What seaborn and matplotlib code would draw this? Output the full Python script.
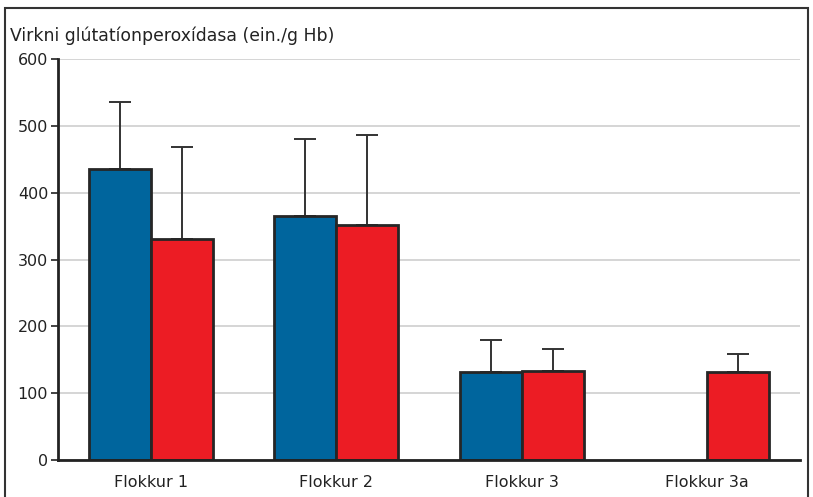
import numpy as np
import pandas as pd
import seaborn as sns
import matplotlib.pyplot as plt
from matplotlib.patches import Rectangle
from matplotlib.container import BarContainer

# ---- data ----
CATEGORIES = ["Flokkur 1", "Flokkur 2", "Flokkur 3", "Flokkur 3a"]
BLUE_VALUES = [435, 365, 132, np.nan]
BLUE_ERR = [101, 115, 48, np.nan]
RED_VALUES = [331, 351, 133, 131]
RED_ERR = [137, 136, 33, 27]
Y_TICKS = [0, 100, 200, 300, 400, 500, 600]
Y_LABEL = "Virkni glútatíonperoxídasa (ein./g Hb)"

BLUE = "#00659d"
RED = "#ec1c24"
EDGE = "#262626"

df = pd.DataFrame({
    "flokkur": CATEGORIES * 2,
    "hopur": ["a"] * 4 + ["b"] * 4,
    "gildi": BLUE_VALUES + RED_VALUES,
    "skekkja": BLUE_ERR + RED_ERR,
})

sns.set_theme(style="white")
plt.rcParams["font.family"] = ["DejaVu Sans"]

fig = plt.figure(figsize=(8.13, 4.97), dpi=100)
ax = fig.add_axes([0.0713, 0.0744, 0.9127, 0.8069])

sns.barplot(data=df, x="flokkur", y="gildi", hue="hopur", order=CATEGORIES,
            palette=[BLUE, RED], width=0.667, edgecolor=EDGE, linewidth=2,
            saturation=1, errorbar=None, legend=False, ax=ax, zorder=3)

# upper-only error bars, placed on top of each bar
hue_err = {0: BLUE_ERR, 1: RED_ERR}
bar_conts = [c for c in ax.containers if isinstance(c, BarContainer)]
for k, cont in enumerate(bar_conts):
    for bar in list(cont):
        h = bar.get_height()
        if not np.isfinite(h) or h == 0:
            continue
        cx = bar.get_x() + bar.get_width() / 2
        i = int(round(cx))
        e = hue_err[k][i]
        ax.errorbar(cx, h, yerr=[[0], [e]], fmt="none", ecolor="#333333",
                    elinewidth=1.4, capsize=8, capthick=1.4, zorder=2)

ax.set_xlim(-0.5, 3.5)
ax.set_ylim(0, 600)
ax.set_yticks(Y_TICKS)
ax.yaxis.grid(True, color="#d2d2d2", linewidth=1.3, zorder=0)
ax.set_axisbelow(True)
ax.set_xlabel("")
ax.set_ylabel("")

for s in ["top", "right"]:
    ax.spines[s].set_visible(False)
for s in ["left", "bottom"]:
    ax.spines[s].set_color("#222222")
    ax.spines[s].set_linewidth(2)
    ax.spines[s].set_zorder(4)

ax.tick_params(axis="y", left=True, length=5, width=1.2, color="#222222",
               labelsize=11.5, labelcolor="#222222", pad=2)
ax.tick_params(axis="x", bottom=False, labelsize=11.5, labelcolor="#222222", pad=5)

fig.text(10 / 813, 1 - 36 / 497, Y_LABEL, fontsize=12.4, color="#222222",
         ha="left", va="center")

# frame around the whole figure
fig.patches.append(Rectangle((5 / 813, -0.02), 803 / 813, 1 - 8 / 497 + 0.02,
                             transform=fig.transFigure, fill=False,
                             edgecolor="#333333", linewidth=1.5))

fig.savefig("out.png", dpi=100)
